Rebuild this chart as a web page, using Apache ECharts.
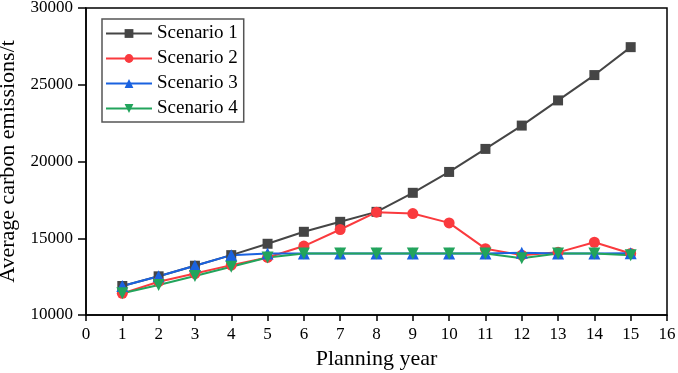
<!DOCTYPE html>
<html>
<head>
<meta charset="utf-8">
<script src="https://cdn.jsdelivr.net/npm/echarts@6/dist/echarts.min.js"></script>
<style>
  html, body { margin: 0; padding: 0; background: #fff; }
  #chart { width: 678px; height: 373px; }
</style>
</head>
<body>
<div id="chart"></div>
<script>
  // planning years 1..15
  const years = [1, 2, 3, 4, 5, 6, 7, 8, 9, 10, 11, 12, 13, 14, 15]
  const scenario1 = [11890, 12520, 13210, 13900, 14640, 15420, 16070, 16720, 17960, 19320, 20820, 22340, 23980, 25630, 27450]
  const scenario2 = [11410, 12170, 12700, 13250, 13750, 14490, 15570, 16700, 16610, 16000, 14320, 13900, 14080, 14740, 14010]
  const scenario3 = [11890, 12530, 13210, 13900, 14010, 14000, 14000, 14000, 14000, 14000, 14000, 14060, 14000, 14000, 14020]
  const scenario4 = [11420, 11950, 12540, 13140, 13740, 14000, 14000, 14000, 14000, 14000, 14000, 13690, 14000, 14000, 13900]

  const font = 'Liberation Serif'

  function pairs(vals) {
    return years.map((y, i) => [y, vals[i]])
  }

  function line(name, vals, color, symbol, size, rotate) {
    return {
      name: name,
      type: 'line',
      data: pairs(vals),
      symbol: symbol,
      symbolSize: size,
      symbolRotate: rotate || 0,
      lineStyle: {color: color, width: 2},
      itemStyle: {color: color},
      emphasis: {disabled: true},
      z: 3
    }
  }

  let chart = echarts.init(document.getElementById('chart'), null, {renderer: 'canvas'})
  chart.setOption({
    animation: false,
    grid: {
      left: 86,
      right: 11,
      top: 8,
      bottom: 58,
      containLabel: false,
      outerBoundsMode: 'none',
      show: true,
      borderColor: '#000',
      borderWidth: 1.5
    },
    legend: {
      orient: 'vertical',
      left: 102,
      top: 19,
      padding: [5, 6, 4, 3],
      borderColor: '#555',
      borderWidth: 1.5,
      itemWidth: 46,
      itemHeight: 11,
      itemGap: 6,
      textStyle: {fontFamily: font, fontSize: 19, lineHeight: 19, color: '#000'},
      data: ['Scenario 1', 'Scenario 2', 'Scenario 3', 'Scenario 4']
    },
    xAxis: {
      type: 'value',
      min: 0,
      max: 16,
      interval: 1,
      name: 'Planning year',
      nameLocation: 'middle',
      nameGap: 29,
      nameTextStyle: {fontFamily: font, fontSize: 22, color: '#000'},
      axisLine: {lineStyle: {color: '#000', width: 1.5}},
      axisTick: {length: 6, lineStyle: {color: '#000', width: 1.5}},
      axisLabel: {fontFamily: font, fontSize: 17, color: '#000', margin: 11},
      splitLine: {show: false}
    },
    yAxis: {
      type: 'value',
      min: 10000,
      max: 30000,
      interval: 5000,
      name: 'Average carbon emissions/t',
      nameLocation: 'middle',
      nameGap: 57,
      nameTextStyle: {fontFamily: font, fontSize: 22, color: '#000'},
      axisLine: {show: true, lineStyle: {color: '#000', width: 1.5}},
      axisTick: {show: true, length: 8, lineStyle: {color: '#000', width: 1.5}},
      axisLabel: {fontFamily: font, fontSize: 17, color: '#000', margin: 13, formatter: v => String(v)},
      splitLine: {show: false}
    },
    series: [
      line('Scenario 1', scenario1, '#454545', 'rect', 10),
      line('Scenario 2', scenario2, '#fa3a3e', 'circle', 11),
      line('Scenario 3', scenario3, '#1a62e0', 'triangle', 12),
      line('Scenario 4', scenario4, '#22a45c', 'triangle', 12, 180)
    ]
  })
</script>
</body>
</html>
